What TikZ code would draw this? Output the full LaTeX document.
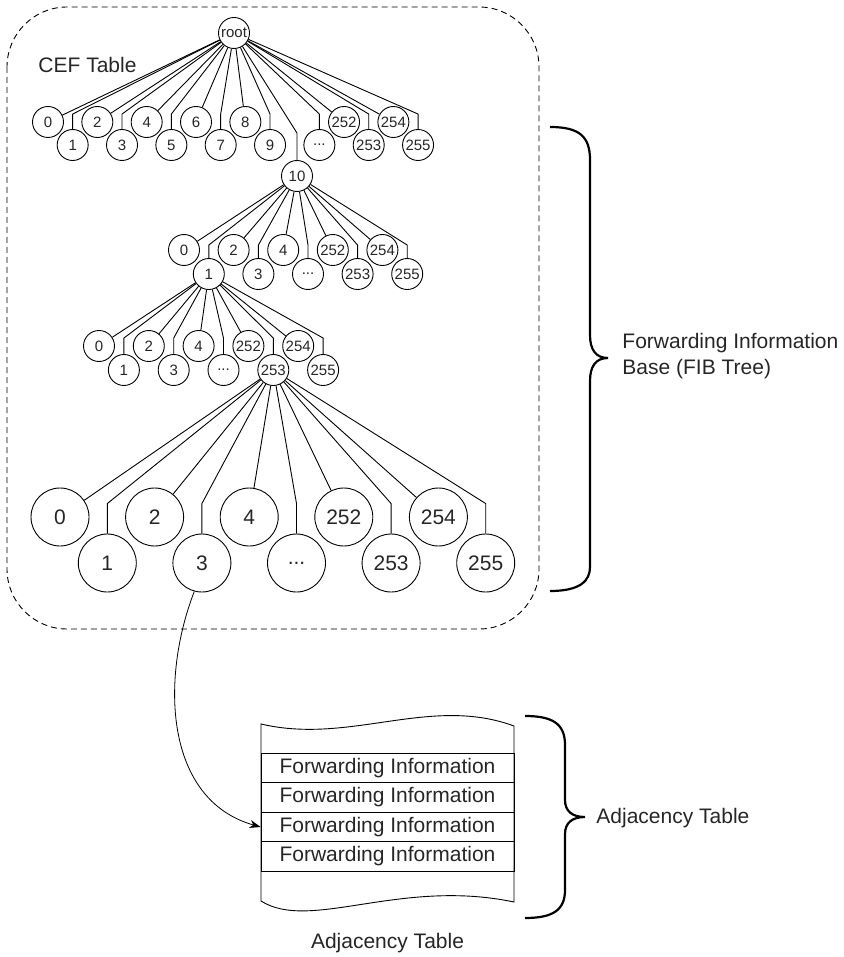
\documentclass[tikz,border=0pt]{standalone}
\usepackage{fontspec}
\setmainfont{Liberation Sans}
\usepackage{tikz}
\usetikzlibrary{positioning}
\usetikzlibrary{calc}
\usetikzlibrary{arrows.meta}
\newcommand{\dotsym}{...}
\tikzset{every picture/.style={line width=0.9pt},
leaf/.style={circle,draw,minimum size=31pt,inner sep=0pt,text=black!85,font=\fontsize{15}{15}\selectfont},
bigleaf/.style={circle,draw,minimum size=58pt,inner sep=0pt,text=black!85,font=\fontsize{21}{21}\selectfont},
fwdrow/.style={draw,minimum width=253pt,minimum height=29.5pt,inner sep=0pt,text=black!85,font=\fontsize{21}{21}\selectfont},
lbl/.style={inner sep=0pt,text=black!85,font=\fontsize{21}{26}\selectfont},
bracket/.style={line width=2.2pt}}

\begin{document}
\begin{tikzpicture}[x=1pt,y=-1pt]
\useasboundingbox (0,0) rectangle (843,957);
\draw[dash pattern=on 6pt off 4pt,rounded corners=60pt] (7,7) rectangle (539,629);
\node[lbl,anchor=west] (cef) at (38,65) {CEF Table};

% root and first level
\node[leaf] (root) at (234,33) {root};
\foreach \i/\t in {0/0,1/1,2/2,3/3,4/4,5/5,6/6,7/7,8/8,9/9,11/\dotsym,12/252,13/253,14/254,15/255} {
\node[leaf] (a\i) at ({48+24.67*\i},{122+23*mod(\i,2)}) {\t};
\ifodd\i
\draw (root) -- ([yshift=15pt]a\i.north) -- (a\i);
\else
\draw (root) -- (a\i);
\fi
}
\node[leaf] (a10) at (297,176) {10};
\draw (root) -- ([yshift=27pt]a10.north) -- (a10);

% second level, below 10
\foreach \i/\t in {0/0,1/1,2/2,3/3,4/4,5/\dotsym,6/252,7/253,8/254,9/255} {
\node[leaf] (b\i) at ({184+24.8*\i},{250+24*mod(\i,2)}) {\t};
\ifodd\i
\draw (a10) -- ([yshift=13pt]b\i.north) -- (b\i);
\else
\draw (a10) -- (b\i);
\fi
}

% third level, below 1
\foreach \i/\t in {0/0,1/1,2/2,3/3,4/4,5/\dotsym,6/252,7/253,8/254,9/255} {
\node[leaf] (c\i) at ({99+24.9*\i},{346+24*mod(\i,2)}) {\t};
\ifodd\i
\draw (b1) -- ([yshift=16pt]c\i.north) -- (c\i);
\else
\draw (b1) -- (c\i);
\fi
}

% fourth level, below 253
\foreach \i/\t in {0/0,1/1,2/2,3/3,4/4,5/\dotsym,6/252,7/253,8/254,9/255} {
\node[bigleaf] (d\i) at ({60+47.3*\i},{517+46*mod(\i,2)}) {\t};
\ifodd\i
\draw (c7) -- ([yshift=30pt]d\i.north) -- (d\i);
\else
\draw (c7) -- (d\i);
\fi
}

% adjacency table
\node[fwdrow] (f1) at (387.5,768) {Forwarding Information};
\foreach \x [count=\y from 2] in {1,2,3}
\node[fwdrow] (f\y) [below of=f\x, node distance=29.5pt] {Forwarding Information};
\draw (261,724) .. controls (350,745) and (430,695) .. (514,726) -- (514,902)
  .. controls (400,878) and (310,932) .. (261,901) -- cycle;
\node[lbl] (adjcap) [below of=f4, node distance=86.5pt] {Adjacency Table};

\draw[-{Stealth[length=11pt,width=8pt]},line width=0.8pt] (d3.-105) .. controls (160,680) and (165,800) .. (f3.west);

% braces
\draw[bracket] (550,127) .. controls (580,127) and (590,137) .. (590,160) -- (590,335)
  .. controls (590,350) and (596,358) .. (608,358) .. controls (596,358) and (590,366) .. (590,381)
  -- (590,567) .. controls (590,581) and (580,591) .. (550,591);
\node[lbl,anchor=west,align=left] (fib) at (622,356) {Forwarding Information\\Base (FIB Tree)};

\draw[bracket] (525,716) .. controls (553,716) and (565,724) .. (565,745) -- (565,800)
  .. controls (565,811) and (572,817) .. (585,817) .. controls (572,817) and (565,823) .. (565,834)
  -- (565,890) .. controls (565,910) and (553,918) .. (525,918);
\node[lbl,anchor=west] (adjlbl) at (596,818) {Adjacency Table};
\end{tikzpicture}
\end{document}
